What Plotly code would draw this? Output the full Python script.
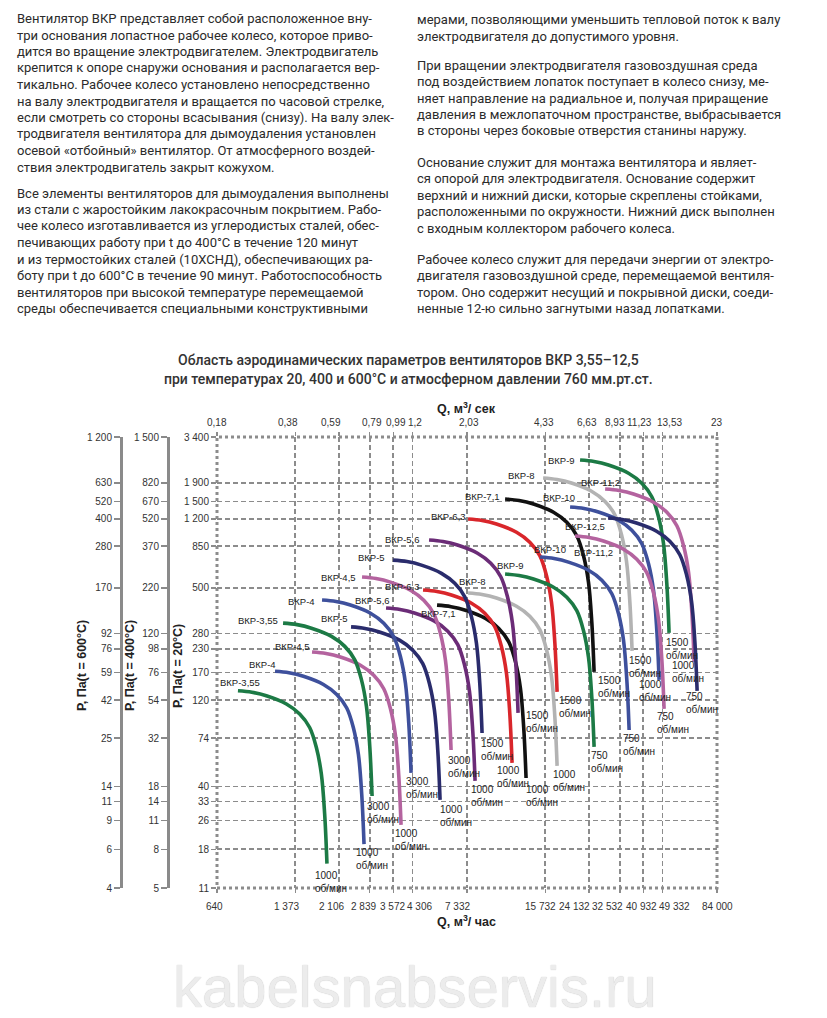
import math
import plotly.graph_objects as go

W, H = 827, 1018

# ---------------- data ----------------
Q_TICKS = [640, 1373, 2106, 2839, 3572, 4306, 7332, 15732, 24132, 32532, 40932, 49332, 84000]
Q_TEXT_HOUR = ["640", "1 373", "2 106", "2 839", "3 572", "4 306", "7 332", "15 732",
               "24 132", "32 532", "40 932", "49 332", "84 000"]
Q_TEXT_SEC = ["0,18", "0,38", "0,59", "0,79", "0,99", "1,2", "2,03", "4,33",
              "6,63", "8,93", "11,23", "13,53", "23"]

P_TICKS = [3400, 1900, 1500, 1200, 850, 500, 280, 230, 170, 120, 74, 40, 33, 26, 18, 11]
P20_TEXT = ["3 400", "1 900", "1 500", "1 200", "850", "500", "280", "230", "170", "120",
            "74", "40", "33", "26", "18", "11"]
P400_TEXT = ["1 500", "820", "670", "520", "370", "220", "120", "98", "76", "54",
             "32", "18", "14", "11", "8", "5"]
P600_TEXT = ["1 200", "630", "520", "400", "280", "170", "92", "76", "59", "42",
             "25", "14", "11", "9", "6", "4"]

# fan curves: name, start flow (m3/h), start pressure (Pa, 20°C), speed
FAN_NAMES = ["ВКР-3,55", "ВКР-4", "ВКР-4,5", "ВКР-3,55", "ВКР-5", "ВКР-4", "ВКР-5,6",
             "ВКР-7,1", "ВКР-6,3", "ВКР-8", "ВКР-4,5", "ВКР-5", "ВКР-5,6", "ВКР-6,3",
             "ВКР-7,1", "ВКР-8", "ВКР-9", "ВКР-11,2", "ВКР-10", "ВКР-12,5", "ВКР-11,2",
             "ВКР-10", "ВКР-9"]
FAN_Q0 = [785, 1127, 1617, 1219, 2366, 1783, 3329, 5474, 4776, 7410, 2634, 3564, 5064,
          7410, 10630, 15400, 22090, 28210, 20040, 29040, 21040, 14960, 10630]
FAN_P0 = [135, 173, 221, 319, 304, 428, 387, 401, 486, 468, 573, 711, 918, 1199,
          1546, 2019, 2538, 1755, 1396, 1214, 966, 739, 596]
FAN_RPM = [1000, 1000, 1000, 3000, 1000, 3000, 1000, 1000, 1000, 1000, 3000, 1500, 1500,
           1500, 1500, 1500, 1500, 1000, 1000, 750, 750, 750, 750]

# common characteristic shape (ratio to start point), read from the ВКР-3,55 / 1000 curve
CURVE_Q_RATIO = [1.0, 1.146, 1.319, 1.604, 1.826, 2.013, 2.149, 2.256, 2.330, 2.383]
CURVE_P_RATIO = [1.0, 0.981, 0.938, 0.845, 0.744, 0.627, 0.486, 0.347, 0.209, 0.111]

TEXT_LEFT = [
    ["Вентилятор ВКР представляет собой расположенное вну-",
     "три основания лопастное рабочее колесо, которое приво-",
     "дится во вращение электродвигателем. Электродвигатель",
     "крепится к опоре снаружи основания и располагается вер-",
     "тикально. Рабочее колесо установлено непосредственно",
     "на валу электродвигателя и вращается по часовой стрелке,",
     "если смотреть со стороны всасывания (снизу). На валу элек-",
     "тродвигателя вентилятора для дымоудаления установлен",
     "осевой «отбойный» вентилятор. От атмосферного воздей-",
     "ствия электродвигатель закрыт кожухом."],
    ["Все элементы вентиляторов для дымоудаления выполнены",
     "из стали с жаростойким лакокрасочным покрытием. Рабо-",
     "чее колесо изготавливается из углеродистых сталей, обес-",
     "печивающих работу при t до 400°С в течение 120 минут",
     "и из термостойких сталей (10ХСНД), обеспечивающих ра-",
     "боту при t до 600°С в течение 90 минут. Работоспособность",
     "вентиляторов при высокой температуре перемещаемой",
     "среды обеспечивается специальными конструктивными"],
]
TEXT_RIGHT = [
    ["мерами, позволяющими уменьшить тепловой поток к валу",
     "электродвигателя до допустимого уровня."],
    ["При вращении электродвигателя газовоздушная среда",
     "под воздействием лопаток поступает в колесо снизу, ме-",
     "няет направление на радиальное и, получая приращение",
     "давления в межлопаточном пространстве, выбрасывается",
     "в стороны через боковые отверстия станины наружу."],
    ["Основание служит для монтажа вентилятора и являет-",
     "ся опорой для электродвигателя. Основание содержит",
     "верхний и нижний диски, которые скреплены стойками,",
     "расположенными по окружности. Нижний диск выполнен",
     "с входным коллектором рабочего колеса."],
    ["Рабочее колесо служит для передачи энергии от электро-",
     "двигателя газовоздушной среде, перемещаемой вентиля-",
     "тором. Оно содержит несущий и покрывной диски, соеди-",
     "ненные 12-ю сильно загнутыми назад лопатками."],
]
TITLE_LINES = ["Область аэродинамических параметров вентиляторов ВКР 3,55–12,5",
               "при температурах 20, 400 и 600°С и атмосферном давлении 760 мм.рт.ст."]

# ---------------- styles / layout ----------------
FAN_COLORS = {
    "ВКР-3,55": "#1c7a45", "ВКР-9": "#1c7a45",
    "ВКР-4": "#3e509c", "ВКР-10": "#3e509c",
    "ВКР-4,5": "#b4639f", "ВКР-11,2": "#b4639f",
    "ВКР-5": "#2a2c6c", "ВКР-12,5": "#2a2c6c",
    "ВКР-5,6": "#6b2c77",
    "ВКР-6,3": "#d9262b",
    "ВКР-7,1": "#111111",
    "ВКР-8": "#b3b3b3",
}
# label offsets in screen pixels (right edge / middle of name; left / top of speed text)
NAME_OFFSETS = [(24, -8), (3, -7), (0, -6), (-3, -3), (-1, -8), (-5, 1), (6, -7), (21, 8),
                (-1, -4), (20, -11), (-4, 0), (-6, -3), (-7, 0), (0, -2), (-3, -2), (-6, -2),
                (-3, 0), (17, -7), (7, -10), (-1, 8), (40, 17), (28, -8), (21, -8)]
RPM_OFFSETS = [(-14, 4), (-10, 1), (-8, 1), (-7, 3), (-2, 2), (-7, 1), (-6, 1), (-2, 4),
               (-17, 0), (-6, 1), (-5, 3), (-3, 3), (6, -5), (0, 1), (2, 1), (-5, 2),
               (-5, 2), (-24, -4), (-22, -3), (-13, -2), (-9, 0), (-8, 1), (-5, 1)]
# horizontal shift (px) of the flow tick labels relative to their ticks, as in the original
BOTTOM_LABEL_SHIFT = [-2, -9, -8, -6, -1, 7, -10, -5, -15, -12, -2, 12, 0]
TOP_LABEL_SHIFT = [0, -7, -8, 2, 3, 3, 2, -1, -2, -5, -4, 7, 0]

GRID = "#8c8c8c"
TXT = "#2b2b2b"
ARIAL = "Liberation Sans, Arial, sans-serif"
TICKFONT = dict(family=ARIAL, size=10, color="#333333")
LBLFONT = dict(family=ARIAL, size=9.5, color="#222222")
RPMFONT = dict(family=ARIAL, size=10, color="#222222")

X0, X1 = 217, 717
Y0, Y1 = 437, 888


def px(x):
    return x / W


def py(y):
    return 1 - y / H


fig = go.Figure()

for i, name in enumerate(FAN_NAMES):
    qs = [FAN_Q0[i] * r for r in CURVE_Q_RATIO]
    ps = [FAN_P0[i] * r for r in CURVE_P_RATIO]
    fig.add_trace(go.Scatter(x=qs, y=ps, mode="lines", hoverinfo="skip", showlegend=False,
                             line=dict(color=FAN_COLORS[name], width=3.6,
                                       shape="spline", smoothing=1.0)))

# dummy traces so the extra axes are drawn
fig.add_trace(go.Scatter(x=[None], y=[None], xaxis="x2", yaxis="y", showlegend=False))
fig.add_trace(go.Scatter(x=[None], y=[None], xaxis="x", yaxis="y2", showlegend=False))
fig.add_trace(go.Scatter(x=[None], y=[None], xaxis="x", yaxis="y3", showlegend=False))

xr = [math.log10(Q_TICKS[0]), math.log10(Q_TICKS[-1])]
yr = [math.log10(P_TICKS[-1]), math.log10(P_TICKS[0])]

axis_common = dict(type="log", fixedrange=True, tickfont=TICKFONT, zeroline=False,
                   automargin=False, tickangle=0)

fig.update_layout(
    width=W, height=H,
    margin=dict(l=0, r=0, t=0, b=0, pad=0, autoexpand=False),
    paper_bgcolor="white", plot_bgcolor="white",
    showlegend=False,
    xaxis=dict(domain=[px(X0), px(X1)], range=xr, tickvals=Q_TICKS, showticklabels=False,
               showgrid=True, gridcolor=GRID, gridwidth=1.6, griddash="5px,3px",
               ticks="outside", ticklen=4, tickcolor=GRID, tickwidth=1.5,
               showline=False, anchor="y", **axis_common),
    xaxis2=dict(domain=[px(X0), px(X1)], range=xr, tickvals=Q_TICKS, showticklabels=False,
                overlaying="x", side="top", anchor="y", showgrid=False,
                ticks="outside", ticklen=4, tickcolor=GRID, tickwidth=1.5, **axis_common),
    yaxis=dict(domain=[py(Y1), py(Y0)], range=yr, tickvals=P_TICKS, ticktext=P20_TEXT,
               showgrid=True, gridcolor=GRID, gridwidth=1.6, griddash="5px,3px",
               ticks="outside", ticklen=5, tickcolor=GRID, tickwidth=1.5,
               showline=False, anchor="x", **axis_common),
    yaxis2=dict(range=yr, tickvals=P_TICKS, ticktext=P600_TEXT, overlaying="y",
                anchor="free", position=px(121), side="left", showgrid=False,
                showline=True, linecolor="#8a8a8a", linewidth=3,
                ticks="outside", ticklen=6, tickcolor="#8a8a8a", tickwidth=1.5, **axis_common),
    yaxis3=dict(range=yr, tickvals=P_TICKS, ticktext=P400_TEXT, overlaying="y",
                anchor="free", position=px(168), side="left", showgrid=False,
                showline=True, linecolor="#8a8a8a", linewidth=3,
                ticks="outside", ticklen=6, tickcolor="#8a8a8a", tickwidth=1.5, **axis_common),
)

# dotted frame of the plot
fig.add_shape(type="rect", xref="x domain", yref="y domain", x0=0, x1=1, y0=0, y1=1,
              line=dict(color=GRID, width=3, dash="dot"), layer="above")

ann = []
# flow tick labels (m3/h at the bottom, m3/s on top), placed on the x scale
for q, t, s in zip(Q_TICKS, Q_TEXT_HOUR, BOTTOM_LABEL_SHIFT):
    ann.append(dict(x=math.log10(q), y=py(906), xref="x", yref="paper", text=t,
                    showarrow=False, xanchor="center", yanchor="middle", xshift=s,
                    font=TICKFONT))
for q, t, s in zip(Q_TICKS, Q_TEXT_SEC, TOP_LABEL_SHIFT):
    ann.append(dict(x=math.log10(q), y=py(423), xref="x", yref="paper", text=t,
                    showarrow=False, xanchor="center", yanchor="middle", xshift=s,
                    font=TICKFONT))

# curve names and speed labels
for i, name in enumerate(FAN_NAMES):
    lq0, lp0 = math.log10(FAN_Q0[i]), math.log10(FAN_P0[i])
    dx, dy = NAME_OFFSETS[i]
    ann.append(dict(x=lq0, y=lp0, xref="x", yref="y", text=name, showarrow=False,
                    xanchor="right", yanchor="middle", xshift=dx, yshift=-dy, font=LBLFONT))
    lq1 = math.log10(FAN_Q0[i] * CURVE_Q_RATIO[-1])
    lp1 = math.log10(FAN_P0[i] * CURVE_P_RATIO[-1])
    rx, ry = RPM_OFFSETS[i]
    ann.append(dict(x=lq1, y=lp1, xref="x", yref="y",
                    text=f"{FAN_RPM[i]}<br>об/мин", showarrow=False, align="left",
                    xanchor="left", yanchor="top", xshift=rx, yshift=-ry, font=RPMFONT))

# axis titles
ann.append(dict(x=px(466), y=py(408), xref="paper", yref="paper", showarrow=False,
                text="<b>Q, м<sup>3</sup>/ сек</b>", xanchor="center", yanchor="middle",
                font=dict(family=ARIAL, size=12.5, color="#222")))
ann.append(dict(x=px(466), y=py(921), xref="paper", yref="paper", showarrow=False,
                text="<b>Q, м<sup>3</sup>/ час</b>", xanchor="center", yanchor="middle",
                font=dict(family=ARIAL, size=12.5, color="#222")))
for xc, t in [(82, "P, Па(t = 600°C)"), (130, "P, Па(t = 400°C)"), (178, "P, Па(t = 20°C)")]:
    ann.append(dict(x=px(xc), y=py(666), xref="paper", yref="paper", showarrow=False,
                    text=f"<b>{t}</b>", textangle=-90, xanchor="center", yanchor="middle",
                    font=dict(family=ARIAL, size=12.5, color="#222")))

# chart title
for k, line in enumerate(TITLE_LINES):
    ann.append(dict(x=px(408), y=py(360 + 19 * k), xref="paper", yref="paper", showarrow=False,
                    text=line, xanchor="center", yanchor="middle",
                    font=dict(family="Roboto, Arial, sans-serif", size=14, color="#333333",
                              weight=500)))

# text columns
LINE_H = 16.5


def add_column(paras, x_left, starts):
    for para, y_start in zip(paras, starts):
        for j, line in enumerate(para):
            ann.append(dict(x=px(x_left), y=py(y_start + LINE_H * j), xref="paper", yref="paper",
                            showarrow=False, text=line, xanchor="left", yanchor="middle",
                            font=dict(family="Roboto, Arial, sans-serif", size=13, color=TXT)))


add_column(TEXT_LEFT, 15, [18.5, 193])
add_column(TEXT_RIGHT, 415, [19.5, 65, 162, 259])

# watermark
ann.append(dict(x=px(415), y=py(986), xref="paper", yref="paper", showarrow=False,
                text="kabelsnabservis.ru", xanchor="center", yanchor="middle",
                font=dict(family=ARIAL, size=58, color="#ececec",
                          shadow="0px 0px 1px #b8b8b8")))

fig.update_layout(annotations=ann)
fig.write_html("out.html", config={"displayModeBar": False, "staticPlot": True},
               post_script="document.body.style.margin='0';document.body.style.padding='0';"
                           "document.documentElement.style.overflow='hidden';")
